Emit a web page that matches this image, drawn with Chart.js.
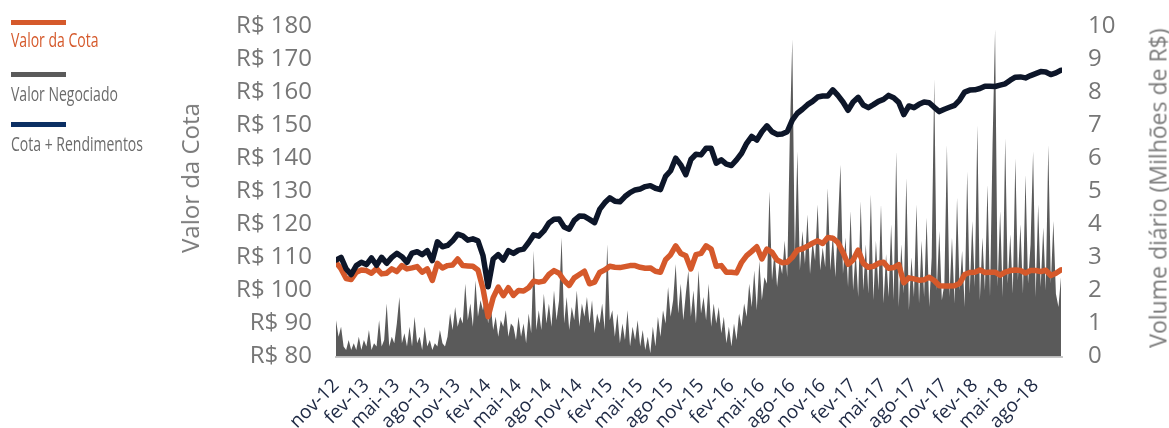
<!DOCTYPE html>
<html>
<head>
<meta charset="utf-8">
<script src="https://cdn.jsdelivr.net/npm/chart.js@4.4.0/dist/chart.umd.min.js"></script>
<style>
  html, body { margin: 0; padding: 0; background: #ffffff; }
  #wrap { position: relative; width: 1169px; height: 428px; overflow: hidden; font-family: 'Open Sans', sans-serif; }
  #c { position: absolute; left: 0; top: 0; }
  .lg-line { position: absolute; left: 11px; width: 55px; height: 4.5px; }
  .lg-text { position: absolute; left: 11px; font-size: 20px; line-height: 20px; white-space: nowrap; transform-origin: 0 0; transform: scaleX(0.7); }
  .ax-title { position: absolute; white-space: nowrap; transform: translate(-50%, -50%) rotate(-90deg); color: #7a7a7a; line-height: 1; }
</style>
</head>
<body>
<div id="wrap">
  <canvas id="c" width="1169" height="428"></canvas>
  <div class="lg-line" style="top:20px;background:#d5592b;"></div>
  <div class="lg-text" style="top:30px;color:#d5592b;">Valor da Cota</div>
  <div class="lg-line" style="top:72px;background:#5a5a5a;"></div>
  <div class="lg-text" style="top:84px;color:#6b6b6b;">Valor Negociado</div>
  <div class="lg-line" style="top:122px;background:#0b2f63;"></div>
  <div class="lg-text" style="top:134px;color:#6b6b6b;">Cota + Rendimentos</div>
  <div class="ax-title" style="left:190px;top:178px;font-size:24px;">Valor da Cota</div>
  <div class="ax-title" style="left:1158px;top:188px;font-size:23px;">Volume diário (Milhões de R$)</div>
</div>
<script>
// Quarterly tick labels (one every 3 months, starting nov-12)
const tickLabels = ['nov-12','fev-13','mai-13','ago-13','nov-13','fev-14','mai-14','ago-14','nov-14','fev-15','mai-15','ago-15','nov-15','fev-16','mai-16','ago-16','nov-16','fev-17','mai-17','ago-17','nov-17','fev-18','mai-18','ago-18'];

// Valor da Cota (R$), half-month steps from nov-12
const valorCota = [
108.5,106.5,103.6,103.3,105.5,106.2,106.0,105.2,106.6,105.0,
105.2,106.5,105.7,107.5,106.5,106.8,107.2,105.5,106.5,103.0,
108.2,106.8,107.5,107.7,109.5,107.5,107.4,107.3,106.2,100.5,
92.0,97.8,101.0,98.4,100.8,98.5,100.0,99.8,100.8,102.8,
102.5,102.8,104.8,106.0,105.2,103.0,101.5,103.8,104.8,105.8,
102.0,102.5,105.4,106.2,107.3,107.0,106.9,107.2,107.5,107.5,
107.0,106.7,106.8,105.8,105.5,109.3,110.8,113.5,111.2,110.5,
106.5,110.8,111.2,113.5,112.5,107.3,107.5,105.5,105.5,105.3,
108.5,110.5,111.8,113.2,109.5,112.5,111.5,109.2,108.4,108.5,
110.0,112.2,112.6,113.4,114.3,115.0,114.2,116.0,115.8,114.5,
111.5,107.9,109.2,112.2,108.2,107.0,107.3,108.2,108.5,106.7,
106.9,107.8,102.3,103.8,103.5,103.1,103.2,104.0,103.0,101.4,
101.3,101.3,101.4,102.1,104.8,105.4,105.5,106.2,105.4,105.5,
105.5,104.6,105.5,106.0,106.2,106.0,105.3,106.0,106.0,105.7,
106.1,104.5,105.2,106.2
];

// Cota + Rendimentos (R$), same dates
const cotaRendimentos = [
109.2,110.0,106.5,104.8,107.5,108.5,107.8,109.8,107.6,110.0,
108.2,110.0,111.2,110.2,108.5,111.3,111.7,110.8,112.0,109.0,
114.7,113.2,113.6,115.0,117.0,116.5,115.2,115.6,115.0,110.5,
101.1,109.5,110.8,109.2,112.0,111.2,112.2,112.5,114.5,116.8,
116.4,118.0,120.4,121.5,121.6,119.2,118.5,121.2,122.5,122.4,
121.5,120.5,124.5,126.5,128.0,127.0,126.8,128.4,129.6,130.4,
130.7,131.4,131.7,130.9,130.5,134.5,136.2,140.0,138.0,135.0,
139.6,141.2,141.0,143.0,143.0,138.5,139.5,138.2,137.8,139.5,
141.5,144.5,146.6,145.5,148.0,149.8,148.0,147.2,147.3,148.0,
151.5,153.6,154.8,156.2,157.2,158.5,158.8,158.8,160.7,159.0,
157.0,154.5,157.0,158.4,156.1,155.3,156.2,157.2,157.8,159.0,
158.3,156.9,153.2,155.8,155.3,156.3,157.0,156.8,155.4,154.1,
154.8,155.4,156.0,157.6,160.0,160.6,160.7,161.1,161.8,161.8,
161.7,162.1,162.5,163.6,164.5,164.6,164.3,165.0,165.6,166.2,
166.1,165.3,165.8,166.6
];

// Valor Negociado (R$ milhões), quarter-month steps from nov-12
const valorNegociado = [
1.1,0.6,0.9,0.3,0.2,0.5,0.2,0.4,0.2,0.6,
0.2,0.5,0.3,0.8,0.2,0.4,0.3,1.1,0.3,0.5,
1.6,0.3,0.6,0.4,1.0,1.8,0.4,0.7,0.3,0.9,
0.3,1.2,0.4,0.6,0.2,0.9,0.3,0.5,0.2,0.4,
0.3,0.8,0.4,0.3,0.6,1.3,0.8,1.5,0.9,1.2,
1.0,2.2,1.1,1.6,0.9,2.3,1.2,1.7,1.4,2.0,
1.0,1.6,0.8,1.2,0.6,1.1,0.9,1.4,0.6,1.0,
0.9,0.5,1.2,0.6,1.0,0.4,1.3,0.7,3.2,0.8,
1.4,0.8,1.9,1.0,1.6,0.9,2.0,1.1,1.7,3.6,
1.0,1.8,0.8,1.5,1.1,2.0,0.9,1.6,1.2,1.8,
1.0,1.7,0.7,1.3,1.0,1.6,0.8,3.4,1.1,1.4,
0.6,1.3,0.4,1.0,0.5,1.4,0.3,0.9,0.5,1.1,
0.3,0.8,0.2,0.6,0.1,0.9,0.3,1.2,0.6,1.4,
1.0,2.1,1.2,1.7,2.8,1.3,2.2,1.1,1.9,2.6,
1.2,2.0,1.0,2.6,1.3,1.8,1.1,2.2,0.9,1.6,
1.0,1.5,0.7,1.2,0.4,0.9,0.3,1.0,0.5,1.3,
0.9,1.6,1.2,2.2,1.5,2.6,1.4,2.9,1.7,2.4,
2.2,5.0,2.3,3.2,2.1,2.9,2.5,3.5,2.4,6.6,
9.6,3.0,6.2,2.6,3.8,2.8,4.3,2.5,3.5,2.9,
4.6,2.6,3.3,2.7,5.1,2.6,3.7,2.4,4.0,5.8,
2.5,3.6,2.1,4.4,2.0,3.2,1.8,4.7,2.0,3.4,
1.9,4.9,1.7,3.5,2.0,4.6,1.6,3.1,1.8,4.0,
1.7,6.2,1.5,3.4,1.9,5.4,1.4,3.0,1.8,4.6,
1.6,3.5,1.8,4.2,1.5,3.0,8.4,2.0,3.8,1.7,
2.2,6.4,1.8,3.6,1.6,4.8,2.0,3.2,1.5,5.6,
1.9,4.1,2.1,7.0,1.7,3.6,2.0,5.2,1.8,6.4,
9.9,2.1,4.4,1.8,6.6,2.2,3.7,1.9,6.0,2.3,
4.0,1.9,5.5,2.2,3.4,6.2,1.8,4.6,2.1,3.9,
2.0,6.4,2.2,4.1,1.9,1.5,2.4
];

const LINE_STEP = 0.5;   // months per line point
const VOL_STEP = 0.25;   // months per volume point

const W = 1169, H = 428;
const PLOT_LEFT = 336, PLOT_RIGHT = 1062, PLOT_TOP = 26, PLOT_BOTTOM = 356.5;

const ctx = document.getElementById('c').getContext('2d');
new Chart(ctx, {
  type: 'line',
  data: {
    datasets: [
      {
        label: 'Cota + Rendimentos',
        data: cotaRendimentos.map((v, i) => ({ x: i * LINE_STEP, y: v })),
        borderColor: '#0d1629',
        borderWidth: 5.5,
        pointRadius: 0,
        borderJoinStyle: 'round',
        borderCapStyle: 'round',
        tension: 0,
        yAxisID: 'y',
        order: 1
      },
      {
        label: 'Valor da Cota',
        data: valorCota.map((v, i) => ({ x: i * LINE_STEP, y: v })),
        borderColor: '#d5592b',
        borderWidth: 5.5,
        pointRadius: 0,
        borderJoinStyle: 'round',
        borderCapStyle: 'round',
        tension: 0,
        yAxisID: 'y',
        order: 2
      },
      {
        label: 'Valor Negociado',
        data: valorNegociado.map((v, i) => ({ x: i * VOL_STEP, y: v })),
        borderWidth: 0,
        borderColor: 'rgba(0,0,0,0)',
        backgroundColor: '#5a5a5a',
        fill: 'origin',
        pointRadius: 0,
        tension: 0,
        yAxisID: 'y2',
        order: 3
      }
    ]
  },
  options: {
    responsive: false,
    animation: false,
    events: [],
    layout: { padding: { top: PLOT_TOP, left: 0, right: 0, bottom: 0 } },
    plugins: { legend: { display: false }, tooltip: { enabled: false } },
    scales: {
      x: {
        type: 'linear',
        min: 0,
        max: 71.6,
        grid: { display: false, drawTicks: false },
        border: { display: true, color: '#c8c8c8', width: 2 },
        afterBuildTicks: (scale) => {
          scale.ticks = tickLabels.map((_, k) => ({ value: k * 3 }));
        },
        afterFit: (scale) => {
          scale.height = H - PLOT_BOTTOM;
          scale.paddingLeft = 0;
          scale.paddingRight = 0;
        },
        ticks: {
          autoSkip: false,
          minRotation: 45,
          maxRotation: 45,
          padding: 18,
          color: '#1e2944',
          font: { family: "'Open Sans', sans-serif", size: 19 },
          callback: (v, idx) => tickLabels[idx]
        }
      },
      y: {
        position: 'left',
        min: 80,
        max: 180,
        grid: { display: false, drawTicks: false },
        border: { display: false },
        afterFit: (scale) => {
          scale.width = PLOT_LEFT;
          scale.paddingTop = 0;
          scale.paddingBottom = 0;
        },
        ticks: {
          autoSkip: false,
          stepSize: 10,
          padding: 24,
          color: '#767676',
          font: { family: "'Open Sans', sans-serif", size: 24 },
          callback: (v) => 'R$ ' + v
        }
      },
      y2: {
        position: 'right',
        min: 0,
        max: 10,
        grid: { display: false, drawTicks: false },
        border: { display: false },
        afterFit: (scale) => {
          scale.width = W - PLOT_RIGHT;
          scale.paddingTop = 0;
          scale.paddingBottom = 0;
        },
        ticks: {
          autoSkip: false,
          stepSize: 1,
          padding: 26,
          color: '#767676',
          font: { family: "'Open Sans', sans-serif", size: 24 }
        }
      }
    }
  }
});
</script>
</body>
</html>
